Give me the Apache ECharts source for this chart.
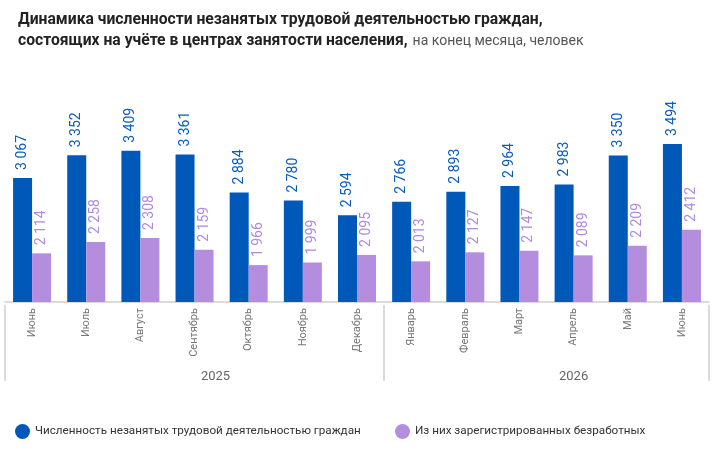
<!DOCTYPE html>
<html>
<head>
<meta charset="utf-8">
<script src="https://cdn.jsdelivr.net/npm/echarts@6/dist/echarts.min.js"></script>
<style>
  html, body { margin: 0; padding: 0; background: #fff; }
  #chart { width: 723px; height: 456px; }
</style>
</head>
<body>
<div id="chart"></div>
<script>
const months = ['Июнь', 'Июль', 'Август', 'Сентябрь', 'Октябрь', 'Ноябрь', 'Декабрь',
  'Январь', 'Февраль', 'Март', 'Апрель', 'Май', 'Июнь'];
const years = ['', '', '', '2025', '', '', '', '', '', '', '2026', '', ''];
const unemployed = [3067, 3352, 3409, 3361, 2884, 2780, 2594, 2766, 2893, 2964, 2983, 3350, 3494];
const registered = [2114, 2258, 2308, 2159, 1966, 1999, 2095, 2013, 2127, 2147, 2089, 2209, 2412];
const seriesNames = ['Численность незанятых трудовой деятельностью граждан', 'Из них зарегистрированных безработных'];

const BLUE = '#0058b8';
const PURPLE = '#b48ddf';
const FONT = 'Roboto';

const fmt = v => String(v).replace(/\B(?=(\d{3})+(?!\d))/g, ' ');

const chart = echarts.init(document.getElementById('chart'), null, { renderer: 'canvas' });

const valueLabel = color => ({
  show: true,
  position: 'top',
  rotate: 90,
  align: 'left',
  verticalAlign: 'middle',
  distance: 8,
  color: color,
  fontFamily: FONT,
  fontSize: 14,
  formatter: p => fmt(p.value)
});

const legendText = { fontFamily: FONT, fontSize: 11.7, color: '#333' };

chart.setOption({
  animation: false,
  title: {
    left: 13,
    top: 5,
    text: '{b|Динамика численности незанятых трудовой деятельностью граждан,}\n{b|состоящих на учёте в центрах занятости населения,} {n|на конец месяца, человек}',
    textStyle: {
      rich: {
        b: { fontFamily: FONT, fontSize: 15.7, fontWeight: 'bold', color: '#222', lineHeight: 21 },
        n: { fontFamily: FONT, fontSize: 14, fontWeight: 'normal', color: '#555', lineHeight: 21 }
      }
    }
  },
  legend: [
    {
      left: 10, top: 419, icon: 'circle', itemWidth: 15, itemHeight: 15, itemGap: 0,
      data: [seriesNames[0]],
      textStyle: legendText
    },
    {
      left: 390, top: 419, icon: 'circle', itemWidth: 15, itemHeight: 15, itemGap: 0,
      data: [seriesNames[1]],
      textStyle: legendText
    }
  ],
  grid: { left: 5, right: 14, top: 104, bottom: 154, containLabel: false },
  xAxis: [
    {
      type: 'category',
      data: months,
      axisLine: { lineStyle: { color: '#cfcfcf', width: 1.5 } },
      axisTick: { show: false },
      axisLabel: {
        rotate: 90, margin: 6, fontFamily: FONT, fontSize: 11, color: '#777', interval: 0
      }
    },
    {
      type: 'category',
      data: years,
      position: 'bottom',
      offset: 3,
      axisLine: { show: false },
      axisTick: {
        show: true, length: 76,
        interval: i => i === 0 || i === 7,
        lineStyle: { color: '#cfcfcf', width: 1.5 }
      },
      axisLabel: {
        interval: 0, margin: 65, fontFamily: FONT, fontSize: 13, color: '#666',
        formatter: v => v === '2025' ? '{s|' + v + '}' : v,
        rich: { s: { fontFamily: FONT, fontSize: 13, color: '#666', padding: [0, 0, 0, 42] } }
      }
    }
  ],
  yAxis: { type: 'value', min: 1500, max: 4000, show: false, splitLine: { show: false } },
  series: [
    {
      name: seriesNames[0], type: 'bar', data: unemployed, xAxisIndex: 0,
      barWidth: 19, barGap: '0%',
      itemStyle: { color: BLUE },
      label: valueLabel('#0a5cba')
    },
    {
      name: seriesNames[1], type: 'bar', data: registered, xAxisIndex: 0,
      barWidth: 19,
      itemStyle: { color: PURPLE },
      label: valueLabel('#b08ade')
    }
  ]
});
</script>
</body>
</html>
